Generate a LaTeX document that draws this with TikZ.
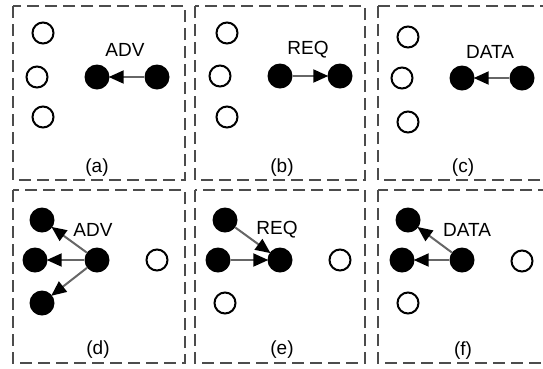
\documentclass[tikz,border=0pt]{standalone}
\usepackage{fontspec}
\setmainfont{Liberation Sans}
\usetikzlibrary{arrows.meta}

\begin{document}
\begin{tikzpicture}[
 x=1pt,y=-1pt,
 font=\fontsize{19}{21}\selectfont,
 panel/.style={draw=black!70,line width=2.2pt,dash pattern=on 12pt off 6pt},
 hole/.style={circle,draw,line width=2pt,minimum size=21pt,inner sep=0pt},
 peer/.style={circle,fill,minimum size=25pt,inner sep=0pt},
 pkt/.style={draw=black!60,line width=2pt,-{Triangle[length=15pt,width=13pt,black]},shorten >=-1pt},
 lbl/.style={inner sep=0pt}
]
\useasboundingbox (0,0) rectangle (543,368);
% panels
\draw[panel] (13,6) rectangle (185,180);
\draw[panel] (195,6) rectangle (365,180);
\draw[panel] (378,6) rectangle (552,180);
\draw[panel] (13,190) rectangle (185,363);
\draw[panel] (195,190) rectangle (365,363);
\draw[panel] (378,190) rectangle (552,363);

% (a) advertisement
\node[hole] (a1) at (43,33) {};
\node[hole] (a2) at (37,77) {};
\node[hole] (a3) at (43,117) {};
\node[peer] (aR) at (97,77) {};
\node[peer] (aS) at (157,77) {};
\node[lbl] (aL) at (125,50) {ADV};
\node[lbl] (aC) at (97,168) {(a)};
\draw[pkt] (aS) -- (aR);

% (b) request
\node[hole] (b1) at (227,33) {};
\node[hole] (b2) at (220,76) {};
\node[hole] (b3) at (227,117) {};
\node[peer] (bR) at (280,76) {};
\node[peer] (bS) at (340,76) {};
\node[lbl] (bL) at (308,50) {REQ};
\node[lbl] (bC) at (282,168) {(b)};
\draw[pkt] (bR) -- (bS);

% (c) data
\node[hole] (c1) at (408,37) {};
\node[hole] (c2) at (402,78) {};
\node[hole] (c3) at (408,122) {};
\node[peer] (cR) at (462,78) {};
\node[peer] (cS) at (522,78) {};
\node[lbl] (cL) at (490,52) {DATA};
\node[lbl] (cC) at (463,168) {(c)};
\draw[pkt] (cS) -- (cR);

% (d) advertisement to all neighbours
\node[peer] (d1) at (42,220) {};
\node[peer] (d2) at (35,260) {};
\node[peer] (d3) at (42,303) {};
\node[peer] (dS) at (97,260) {};
\node[hole] (d4) at (157,260) {};
\node[lbl] (dL) at (93,230) {ADV};
\node[lbl] (dC) at (98,350) {(d)};
\draw[pkt] (dS) -- (d1);
\draw[pkt] (dS) -- (d2);
\draw[pkt] (dS) -- (d3);

% (e) requests
\node[peer] (e1) at (225,220) {};
\node[peer] (e2) at (218,260) {};
\node[hole] (e3) at (225,303) {};
\node[peer] (eS) at (280,260) {};
\node[hole] (e4) at (340,260) {};
\node[lbl] (eL) at (277,230) {REQ};
\node[lbl] (eC) at (282,350) {(e)};
\draw[pkt] (e1) -- (eS);
\draw[pkt] (e2) -- (eS);

% (f) data to requesters
\node[peer] (f1) at (408,220) {};
\node[peer] (f2) at (402,260) {};
\node[hole] (f3) at (408,303) {};
\node[peer] (fS) at (462,260) {};
\node[hole] (f4) at (522,261) {};
\node[lbl] (fL) at (467,230) {DATA};
\node[lbl] (fC) at (463,351) {(f)};
\draw[pkt] (fS) -- (f1);
\draw[pkt] (fS) -- (f2);
\end{tikzpicture}
\end{document}
